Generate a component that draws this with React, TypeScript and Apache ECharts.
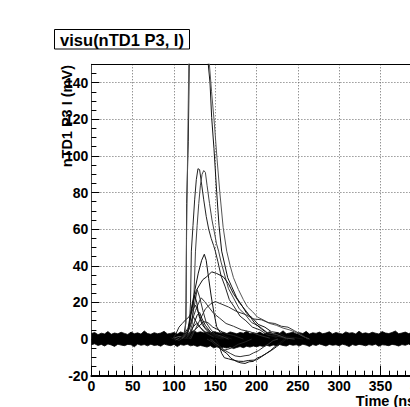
import React, { useEffect, useRef } from "react";
import * as echarts from "echarts";

// ---- axes ----
const X_MIN = 0;
const X_MAX = 400;
const Y_MIN = -20;
const Y_MAX = 150;

const TITLE = "visu(nTD1 P3, I)";
const Y_TITLE = "nTD1 P3 I (mV)";
const X_TITLE = "Time (ns)";

// ---- baseline noise envelope (mV), sampled every 4 ns from 0 to 400 ----
const bandStepNs = 4;
const bandUpper = [
  3.0, 3.6, 2.4, 3.2, 2.8, 4.1, 2.6, 3.3, 2.9, 3.7,
  3.1, 2.5, 3.8, 2.9, 3.4, 2.7, 4.4, 3.0, 2.6, 3.5,
  2.9, 3.3, 4.2, 2.8, 3.1, 3.6, 2.7, 3.9, 3.2, 2.8,
  3.8, 4.6, 3.5, 4.0, 3.4, 3.9, 3.3, 4.1, 3.6, 3.2,
  3.7, 3.0, 3.9, 3.4, 2.9, 3.6, 3.2, 4.3, 2.9, 3.5,
  3.0, 3.8, 2.7, 3.3, 4.0, 2.8, 3.4, 3.1, 4.5, 2.9,
  3.3, 3.7, 2.8, 3.5, 3.0, 4.2, 2.7, 3.4, 3.1, 3.8,
  2.9, 3.3, 4.0, 2.8, 3.6, 3.1, 2.7, 3.9, 3.2, 3.5,
  2.8, 4.3, 3.0, 3.4, 2.9, 3.7, 3.2, 2.8, 4.1, 3.3,
  3.0, 3.6, 4.4, 2.9, 3.3, 3.8, 3.0, 3.5, 2.7, 3.6,
  3.2,
];
const bandLower = [
  -3.1, -2.6, -3.5, -2.9, -3.8, -2.7, -3.2, -4.0, -2.8, -3.3,
  -3.6, -2.9, -3.1, -4.2, -2.7, -3.4, -3.0, -3.7, -2.8, -3.5,
  -3.2, -3.9, -2.7, -3.3, -3.6, -2.9, -4.1, -3.0, -3.4, -2.8,
  -3.7, -3.3, -4.0, -3.5, -3.9, -4.4, -3.6, -4.8, -4.2, -5.0,
  -4.5, -4.9, -4.3, -5.2, -4.6, -4.1, -4.7, -3.9, -4.4, -3.8,
  -4.2, -3.6, -4.0, -3.4, -3.9, -3.2, -3.6, -3.0, -3.5, -3.8,
  -2.9, -3.4, -3.1, -3.7, -2.8, -3.3, -4.0, -3.0, -3.5, -2.7,
  -3.2, -3.8, -2.9, -3.4, -3.1, -3.6, -2.8, -3.3, -4.1, -3.0,
  -3.5, -2.9, -3.2, -3.7, -3.0, -3.4, -2.8, -3.9, -3.1, -3.3,
  -3.6, -2.9, -3.2, -3.8, -3.0, -3.4, -2.7, -3.5, -3.1, -3.3,
  -3.0,
];

// ---- pulse traces [time ns, mV] ----
const pulseBig = [
  [96, 0.8], [102, -0.5], [108, 1.2], [112, 2.5], [114.5, 9], [115.3, 74], [117.3, 108],
  [118.5, 150], [120, 195], [124, 240], [130, 230], [136, 190], [141.5, 150], [143.6, 140],
  [145.6, 121], [148.4, 104], [151.7, 80], [154.5, 62], [157.7, 48], [161, 41.5], [165, 33.5],
  [170, 28.5], [176, 22.5], [182, 18.5], [188, 14], [195, 11.5], [202, 8], [210, 6.5],
  [218, 4], [226, 3.5], [236, 1.2], [246, 0.8], [256, 0],
];
const pulseBig2 = [
  [100, 0.5], [106, 1.5], [111, 1], [113.5, 4], [114.6, 20], [115.2, 55], [116.3, 95],
  [117.6, 140], [119, 185], [125, 220], [132, 200], [138, 170], [142.5, 152], [145.5, 135],
  [149, 117], [152, 99], [155.5, 80], [159.5, 61], [163.8, 48], [168, 40], [172, 33.5],
  [178, 27], [184, 21.5], [189, 17.5], [195, 15], [201, 12], [208, 10.5], [216, 8.5],
  [224, 7.5], [232, 6], [240, 5], [248, 3.5], [256, 1.5], [264, 0],
];
const pulseC1 = [
  [100, 0.5], [106, -0.8], [112, 1], [116, 2.2], [118.5, 6], [120, 20], [121, 48], [123, 62],
  [125, 76], [127, 87], [129, 93], [131, 92.5], [133, 86], [136, 76], [139, 67], [142, 60],
  [145, 55], [148, 51], [150, 48], [153, 42.5], [157, 34.5], [162, 28.5], [167, 21.5],
  [173, 17.5], [180, 12.5], [187, 10], [195, 6.5], [204, 5], [214, 2], [226, 1.5], [238, 0],
];
const pulseC2 = [
  [102, -0.5], [108, 0.8], [114, 1.5], [119, 3.2], [122, 8], [124, 22], [126, 48], [128, 62],
  [130, 74], [132, 84], [134, 90], [136, 92], [138, 91], [140, 84], [143, 74], [146, 65],
  [149, 58], [151.5, 52], [154, 48], [157, 42], [161, 35.5], [166, 27.5], [172, 22.5],
  [179, 16.5], [186, 13.5], [194, 9], [203, 7], [213, 3.5], [224, 2.5], [236, 0.5], [246, 0],
];
const pulseD = [
  [108, 0.5], [114, 2.5], [118, 6], [121.4, 17.6], [125.4, 27], [129.4, 36], [133.5, 43],
  [136.7, 46.3], [139, 43], [142, 33], [145, 23.5], [148.5, 14], [151.7, 6.7], [156, 3.5],
  [162, 1.5], [170, 0],
];
const pulseE = [
  [106, 0], [112, 2.5], [117, 6], [120, 13.5], [123.4, 21], [127, 26.5], [131.5, 30],
  [135, 32.5], [139.6, 34], [145.6, 36.7], [151.7, 35.8], [159.7, 34], [165.8, 30.3],
  [171.8, 24.9], [179.9, 19.4], [188, 14.9], [198, 8.5], [206, 5.5], [215, 2.5], [225, 0.5],
];
const pulseF = [
  [110, 0.5], [116, 3.5], [120, 7], [124, 16.5], [128, 27], [131, 23], [135, 15.5], [139, 9],
  [144, 5.5], [150, 2.5], [158, 1.5], [166, 0],
];
const pulseG = [
  [98, 0], [102, 2.5], [106, 6.5], [110, 8.5], [114, 10.5], [118, 12], [122, 15.5],
  [126, 18.5], [129, 15], [133, 10.5], [137, 6.5], [142, 4.5], [150, 2], [160, 0.5],
];
const pulseH = [
  [112, 0], [117, 4.5], [120, 8], [123, 12.5], [126, 10], [130, 7.5], [135, 4.5], [141, 3],
  [150, 1], [158, 0],
];
const pulseK = [
  [110, 0], [116, 3.5], [121, 9], [126, 15.5], [130, 20], [133, 22.5], [137, 20.5],
  [142, 17.5], [148, 14], [155, 11.5], [163, 8.5], [172, 7], [182, 5], [192, 4], [204, 2],
  [216, 0.5],
];
const pulseL = [
  [118, 0], [124, 4.5], [130, 7], [136, 9.5], [141, 9], [147, 6.5], [154, 5], [162, 3],
  [172, 2], [184, 0],
];
const pulseQ = [
  [120, 0], [126, 5.5], [132, 11], [138, 16.5], [144, 19], [150, 20.5], [158, 19],
  [166, 17.5], [176, 15], [186, 13.5], [196, 11], [206, 10.5], [214, 9], [222, 8.5],
  [230, 7], [238, 6.5], [246, 4.5], [254, 2.5], [262, 0],
];
const pulseR = [
  [116, 0], [121, 4], [125, 9.5], [128, 13], [131, 14.5], [134, 11], [138, 7.5], [144, 4],
  [152, 2], [160, 0],
];
const pulseS = [
  [114, 0], [119, 3], [123, 6.5], [127, 8.5], [130, 7], [134, 5.5], [140, 3], [148, 1],
];
const pulseU = [
  [112, 0], [116, 2.5], [119, 9], [122, 17], [125, 24], [127.5, 20], [130, 13], [134, 8],
  [139, 5], [146, 2.5], [155, 0.5],
];
const pulseN1 = [
  [146, 0], [150, -1.5], [154, -3.5], [158, -6], [163.8, -7.8], [169, -10.5], [176, -12.3],
  [181, -13], [186, -13.3], [191, -12.4], [196, -12.2], [200, -10.5], [206, -9.4],
  [212, -7.8], [218, -6.2], [224, -4.2], [230, -2.2], [236, 0],
];
const pulseN2 = [
  [144, 0], [150, -2.2], [155.7, -4.2], [162, -6.3], [168, -7.8], [174, -9.2], [180, -9.6],
  [186, -9.1], [191, -8.8], [196, -7.6], [202, -6.4], [208, -4.5], [214, -2.8], [220, -0.8],
  [226, 0],
];
const pulseN3 = [
  [140, 0], [146, -1.5], [150, -3.2], [155, -5], [160, -6.2], [165, -5.6], [171, -4.6],
  [178, -2.8], [186, -1.6], [194, 0],
];
const pulseN4 = [
  [150, 0], [154, -2.5], [157.7, -7.8], [161, -10.2], [166, -10.8], [171.8, -11.5],
  [178, -12.1], [184, -12.2], [190, -11.7], [200, -11.4], [206, -9.6], [212, -7.8],
  [217, -6.2], [222, -4.2], [228, -2.1], [234, 0],
];

const pulses = [
  { data: pulseBig, color: "#111" },
  { data: pulseBig2, color: "#555" },
  { data: pulseC1, color: "#222" },
  { data: pulseC2, color: "#444" },
  { data: pulseD, color: "#111" },
  { data: pulseE, color: "#111" },
  { data: pulseF, color: "#333" },
  { data: pulseG, color: "#222" },
  { data: pulseH, color: "#111" },
  { data: pulseK, color: "#333" },
  { data: pulseL, color: "#222" },
  { data: pulseQ, color: "#333" },
  { data: pulseR, color: "#111" },
  { data: pulseS, color: "#222" },
  { data: pulseU, color: "#111" },
  { data: pulseN1, color: "#111" },
  { data: pulseN2, color: "#333" },
  { data: pulseN3, color: "#222" },
  { data: pulseN4, color: "#111" },
];

const FONT = "'Liberation Sans', Arial, Helvetica, sans-serif";

// The original picture is wider than the window: the plot runs past the right edge.
const CANVAS_W = 450;
const CANVAS_H = 407;

export default function App() {
  const ref = useRef<HTMLDivElement>(null);

  useEffect(() => {
    document.body.style.margin = "0";
    document.body.style.overflow = "hidden";
    document.documentElement.style.overflow = "hidden";
    if (!ref.current) return;
    const chart = echarts.init(ref.current, undefined, { renderer: "svg" });

    const bandTop = bandUpper.map((v, i) => [i * bandStepNs, v]);
    const bandBottom = bandLower.map((v, i) => [i * bandStepNs, v]);

    const series: any[] = [
      {
        type: "line",
        data: bandTop,
        symbol: "none",
        lineStyle: { color: "#000", width: 0.8 },
        areaStyle: { color: "#000", opacity: 1, origin: "auto" },
        z: 3,
      },
      {
        type: "line",
        data: bandBottom,
        symbol: "none",
        lineStyle: { color: "#000", width: 0.8 },
        areaStyle: { color: "#000", opacity: 1, origin: "auto" },
        z: 3,
      },
      ...pulses.map((p) => ({
        type: "line",
        data: p.data,
        symbol: "none",
        clip: true,
        lineStyle: { color: p.color, width: 1 },
        z: 4,
      })),
    ];

    chart.setOption({
      animation: false,
      backgroundColor: "#fff",
      grid: {
        left: 91.4,
        top: 64.3,
        right: CANVAS_W - 421.8,
        bottom: 31.3,
        show: false,
        outerBoundsMode: "none",
      },
      xAxis: [
        {
          type: "value",
          min: X_MIN,
          max: X_MAX,
          interval: 50,
          axisLine: { show: true, onZero: false, lineStyle: { color: "#000", width: 2 } },
          axisTick: { show: true, inside: true, length: 10, lineStyle: { color: "#000", width: 1 } },
          minorTick: { show: true, splitNumber: 5, length: 5, lineStyle: { color: "#000", width: 1 } },
          axisLabel: {
            color: "#000",
            fontFamily: FONT,
            fontWeight: "bold",
            fontSize: 14,
            margin: 3,
            showMaxLabel: true,
          },
          splitLine: { show: true, lineStyle: { color: "#666", type: [1, 2], width: 1 } },
        },
        {
          type: "value",
          position: "top",
          min: X_MIN,
          max: X_MAX,
          interval: 50,
          axisLine: { show: true, onZero: false, lineStyle: { color: "#000", width: 1 } },
          axisTick: { show: false },
          axisLabel: { show: false },
          splitLine: { show: false },
        },
      ],
      yAxis: {
        type: "value",
        min: Y_MIN,
        max: Y_MAX,
        interval: 20,
        axisLine: { show: true, onZero: false, lineStyle: { color: "#444", width: 1 } },
        axisTick: { show: true, inside: true, length: 8, lineStyle: { color: "#000", width: 1 } },
        minorTick: { show: true, splitNumber: 4, length: 5, lineStyle: { color: "#000", width: 1 } },
        axisLabel: {
          color: "#000",
          fontFamily: FONT,
          fontWeight: "bold",
          fontSize: 14,
          margin: 3,
          showMaxLabel: false,
        },
        splitLine: { show: true, lineStyle: { color: "#666", type: [1, 2], width: 1 } },
      },
      graphic: [
        {
          type: "rect",
          shape: { x: 54.5, y: 29.5, width: 135, height: 19.5 },
          style: { fill: "#fff", stroke: "#000", lineWidth: 1 },
          z: 10,
        },
        {
          type: "text",
          x: 122,
          y: 39.5,
          style: {
            text: TITLE,
            fill: "#000",
            font: `bold 16.5px ${FONT}`,
            textAlign: "center",
            textVerticalAlign: "middle",
          },
          z: 11,
        },
        {
          type: "text",
          x: 67,
          y: 65,
          rotation: Math.PI / 2,
          style: {
            text: Y_TITLE,
            fill: "#000",
            font: `bold 14.5px ${FONT}`,
            textAlign: "right",
            textVerticalAlign: "middle",
          },
          z: 11,
        },
        {
          type: "text",
          x: 420,
          y: 401,
          style: {
            text: X_TITLE,
            fill: "#000",
            font: `bold 14.5px ${FONT}`,
            textAlign: "right",
            textVerticalAlign: "middle",
          },
          z: 11,
        },
      ],
      series,
    });

    return () => {
      chart.dispose();
    };
  }, []);

  return <div ref={ref} style={{ width: CANVAS_W, height: CANVAS_H }} />;
}
